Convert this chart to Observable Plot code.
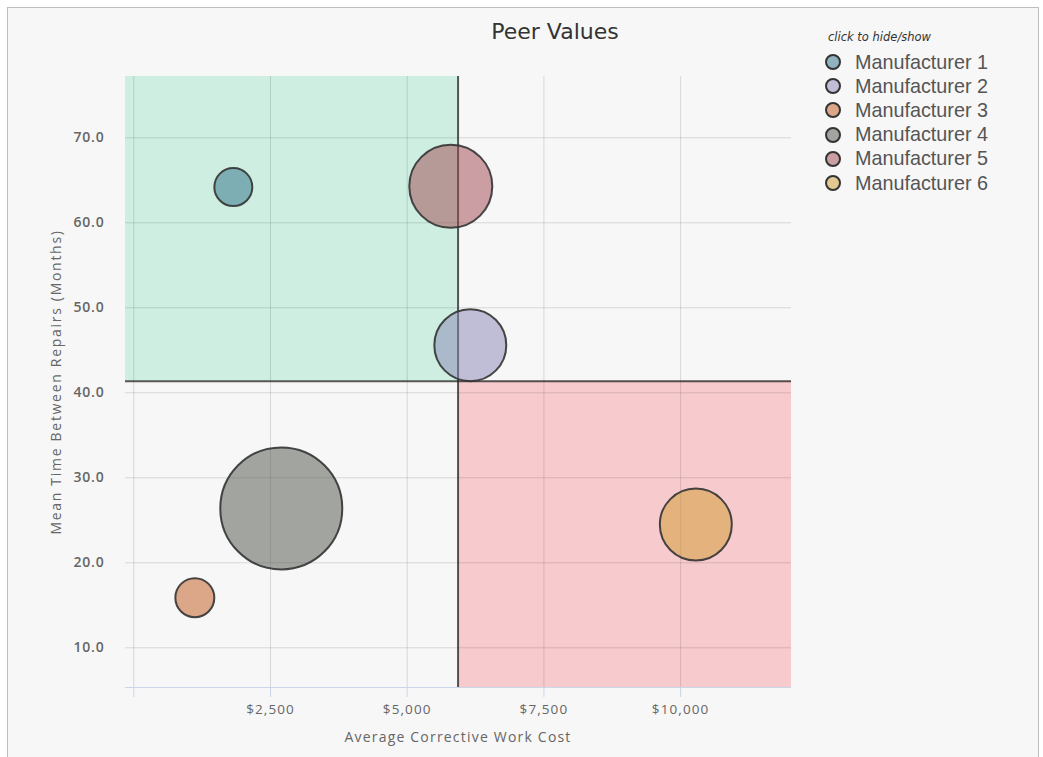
<!DOCTYPE html>
<html>
<head>
<meta charset="utf-8">
<script src="https://cdn.jsdelivr.net/npm/d3@7"></script>
<script src="https://cdn.jsdelivr.net/npm/@observablehq/plot@0.6"></script>
<style>
  html, body { margin: 0; padding: 0; background: #ffffff; width: 1043px; height: 757px; overflow: hidden; }
  #frame { position: absolute; left: 7px; top: 7px; width: 1030px; height: 760px; background: #f7f7f7;
           border-left: 1px solid #bdbdbd; border-top: 1px solid #bdbdbd; border-right: 1px solid #bdbdbd; }
  #chart { position: absolute; left: 0; top: 0; }
  #title { position: absolute; left: 405px; width: 300px; top: 19px; text-align: center;
           font-family: "DejaVu Sans", sans-serif; font-size: 22px; color: #333; }
  #xtitle { position: absolute; left: 258px; width: 400px; top: 727px; text-align: center;
            font-family: "Open Sans", sans-serif; font-size: 14px; letter-spacing: 1.2px; color: #666; }
  #ytitle { position: absolute; left: 55px; top: 382px; white-space: nowrap;
            transform: translate(-50%, -50%) rotate(-90deg);
            font-family: "Open Sans", sans-serif; font-size: 14px; letter-spacing: 1.7px; color: #666; }
  #legend { position: absolute; left: 824px; top: 29px; font-family: "Liberation Sans", Arial, sans-serif; }
  #legend .hint { font-family: "DejaVu Sans", sans-serif; font-style: italic; font-size: 11.5px; color: #333;
                  margin-left: 4px; height: 21px; line-height: 16px; }
  #legend .item { display: flex; align-items: center; height: 24.2px; cursor: pointer; }
  #legend .item span { font-size: 19.8px; color: #555; margin-left: 13px; }
</style>
</head>
<body>
<div id="frame"></div>
<div id="chart"></div>
<div id="title">Peer Values</div>
<div id="xtitle">Average Corrective Work Cost</div>
<div id="ytitle">Mean Time Between Repairs (Months)</div>
<div id="legend"></div>
<script>
// ---- data ----
const manufacturers = ["Manufacturer 1", "Manufacturer 2", "Manufacturer 3", "Manufacturer 4", "Manufacturer 5", "Manufacturer 6"];
const avgCost      = [1820, 6154, 1116, 2697, 5797, 10278];   // Average Corrective Work Cost ($)
const mtbr         = [64.2, 45.6, 15.9, 26.4, 64.3, 24.5];    // Mean Time Between Repairs (months)
const bubbleSize   = [9.7, 34.8, 10.2, 100, 46.3, 34.8];      // relative bubble size
const seriesColors = ["#2b6e88", "#8985b5", "#c2551a", "#4d5147", "#9f4650", "#cf9a2c"];

const xTicks = [0, 2500, 5000, 7500, 10000];
const yTicks = [10, 20, 30, 40, 50, 60, 70];
const xDomain = [-152, 12028];
const yDomain = [5.33, 77.21];
const costThreshold = 5930;
const mtbrThreshold = 41.36;

const points = manufacturers.map((name, i) => ({name, x: avgCost[i], y: mtbr[i], size: bubbleSize[i]}));
const bands = [
  {x1: xDomain[0], x2: costThreshold, y1: mtbrThreshold, y2: yDomain[1], fill: "#cdeee0"},
  {x1: costThreshold, x2: xDomain[1], y1: yDomain[0], y2: mtbrThreshold, fill: "#f7cbce"}
];

const hidden = new Set();
const fmtMoney = d => d === 0 ? "" : "$" + d3.format(",")(d);

function render() {
  const shown = points.filter(p => !hidden.has(p.name));
  const chart = Plot.plot({
    width: 1043,
    height: 757,
    marginLeft: 125,
    marginRight: 252,
    marginTop: 76,
    marginBottom: 70,
    style: {background: "transparent", fontFamily: "Open Sans, sans-serif"},
    x: {domain: xDomain},
    y: {domain: yDomain},
    r: {domain: [0, 100], range: [0, 61]},
    color: {domain: manufacturers, range: seriesColors},
    marks: [
      Plot.rect(bands, {x1: "x1", x2: "x2", y1: "y1", y2: "y2", fill: d => d.fill}),
      Plot.ruleX(xTicks, {stroke: "#000", strokeOpacity: 0.13, strokeWidth: 1}),
      Plot.ruleY(yTicks, {stroke: "#000", strokeOpacity: 0.13, strokeWidth: 1}),
      Plot.ruleY([yDomain[0]], {stroke: "#ccd6eb", strokeWidth: 1}),
      Plot.ruleX([costThreshold], {stroke: "#222", strokeOpacity: 0.75, strokeWidth: 2}),
      Plot.ruleY([mtbrThreshold], {stroke: "#222", strokeOpacity: 0.75, strokeWidth: 2}),
      Plot.axisX({ticks: xTicks, tickFormat: fmtMoney, tickSize: 10, tickPadding: 7,
                  stroke: "#ccd6eb", fill: "#666", fontSize: 13.5, label: null}),
      Plot.axisY({ticks: yTicks, tickFormat: d3.format(".1f"), tickSize: 0, tickPadding: 21,
                  fill: "#666", fontSize: 14, fontWeight: 600, label: null}),
      Plot.dot(shown, {x: "x", y: "y", r: "size", fill: "name", fillOpacity: 0.5,
                       stroke: "#333", strokeWidth: 2, strokeOpacity: 0.9})
    ]
  });
  chart.querySelectorAll('g[aria-label="x-axis tick label"] text').forEach(t => { t.style.letterSpacing = "1.1px"; });
  chart.querySelectorAll('g[aria-label="y-axis tick label"] text').forEach(t => { t.style.letterSpacing = "0.8px"; });
  const holder = document.getElementById("chart");
  holder.innerHTML = "";
  holder.appendChild(chart);
}

function buildLegend() {
  const lg = document.getElementById("legend");
  lg.innerHTML = '<div class="hint">click to hide/show</div>';
  manufacturers.forEach((name, i) => {
    const item = document.createElement("div");
    item.className = "item";
    item.innerHTML = `<svg width="18" height="18"><circle cx="9" cy="9" r="7" fill="#f7f7f7"></circle>` +
      `<circle cx="9" cy="9" r="7" fill="${seriesColors[i]}" fill-opacity="${hidden.has(name) ? 0.1 : 0.5}" stroke="#333" stroke-width="2"></circle></svg>` +
      `<span style="color:${hidden.has(name) ? '#ccc' : '#555'}">${name}</span>`;
    item.onclick = () => { hidden.has(name) ? hidden.delete(name) : hidden.add(name); buildLegend(); render(); };
    lg.appendChild(item);
  });
}

buildLegend();
render();
</script>
</body>
</html>
